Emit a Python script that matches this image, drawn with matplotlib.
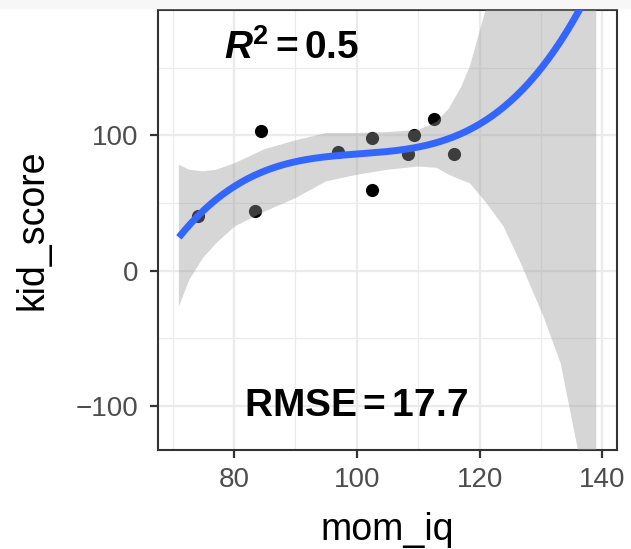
import numpy as np
import matplotlib
matplotlib.use("Agg")
import matplotlib.pyplot as plt
from matplotlib.patches import Rectangle

# data
mom_iq = [74.1, 83.4, 84.4, 97.0, 102.4, 102.4, 108.4, 109.3, 112.6, 115.9]
kid_score = [40, 44.4, 103, 87.4, 98, 59.3, 86, 100.5, 112, 86.4]
# confidence band edges
band_x = [71, 72.7, 74.9, 77.1, 80.1, 85, 90, 95, 100, 105, 110, 113, 115,
          117, 118.4, 121.1, 123.9, 126.7, 130.4, 133.2, 135.9, 139]
band_upper = [78.3, 74.6, 73.4, 74.6, 79.5, 89.9, 96.3, 101.8, 101.8, 102.5,
              104, 110, 120, 136, 151, 195, 250, 320, 400, 480, 560, 700]
band_lower = [-26.7, -6.9, 9.2, 20.3, 32.6, 43.7, 53.6, 66, 70.9, 74.6, 77,
              76, 70.9, 67, 64.7, 50, 32.6, 5.5, -34, -68.6, -130, -250]
x_limits = [71, 139]
y_view = [-118, 178]
x_ticks = [80, 100, 120, 140]
y_ticks = [-100, 0, 100]
r2_label = r"$\mathbfit{R}^{\mathbf{2}}\mathbf{=0.5}$"
rmse_label = r"$\mathbf{RMSE=17.7}$"

plt.rcParams["font.family"] = ["Liberation Sans", "DejaVu Sans"]
plt.rcParams["mathtext.fontset"] = "custom"
plt.rcParams["mathtext.rm"] = "Liberation Sans"
plt.rcParams["mathtext.bf"] = "Liberation Sans:bold"
plt.rcParams["mathtext.it"] = "Liberation Sans:italic"
plt.rcParams["mathtext.bfit"] = "Liberation Sans:bold:italic"

# cubic least-squares fit of the points
x = np.array(mom_iq, float)
y = np.array(kid_score, float)
c, s = x.mean(), x.std()
X = np.vander((x - c) / s, 4, increasing=True)
beta, *_ = np.linalg.lstsq(X, y, rcond=None)
xg = np.linspace(x_limits[0], x_limits[1], 200)
fit = np.vander((xg - c) / s, 4, increasing=True) @ beta

fig = plt.figure(figsize=(6.31, 5.49), dpi=100)
fig.patches.append(Rectangle((0, 1 - 8 / 549), 1, 8 / 549, transform=fig.transFigure,
                             color="#F7F7F7", zorder=0))
ax = fig.add_axes([0.2504, 0.1803, 0.978 - 0.2504, 0.9818 - 0.1803])
ax.set_facecolor("white")

ax.scatter(x, y, s=90, color="black", zorder=3, linewidths=0)
ax.fill_between(band_x, band_lower, band_upper, color="#999999", alpha=0.4,
                linewidth=0, zorder=4)
ax.plot(xg, fit, color="#3366FF", lw=5, zorder=5, solid_capstyle="butt")

ax.text(89.3, 165, r2_label, fontsize=28, ha="center", va="center", zorder=6)
ax.text(99.8, -100, rmse_label, fontsize=28, ha="center", va="center", zorder=6)

span = x_limits[1] - x_limits[0]
ax.set_xlim(x_limits[0] - 0.05 * span, x_limits[1] + 0.05 * span)
yspan = y_view[1] - y_view[0]
ax.set_ylim(y_view[0] - 0.05 * yspan, y_view[1] + 0.05 * yspan)
ax.set_xticks(x_ticks)
ax.set_yticks(y_ticks)
ax.set_xticks([70, 90, 110, 130], minor=True)
ax.set_yticks([-50, 50, 150], minor=True)
ax.grid(which="major", color="#EBEBEB", lw=1.6, zorder=0)
ax.grid(which="minor", color="#EBEBEB", lw=0.9, zorder=0)
ax.set_axisbelow(True)
ax.tick_params(which="major", length=6, width=1.6, color="#333333",
               labelsize=20, labelcolor="#4D4D4D", pad=6)
ax.tick_params(axis="y", which="major", pad=8)
ax.tick_params(which="minor", length=0)
for sp in ax.spines.values():
    sp.set_color("#333333")
    sp.set_linewidth(1.5)
ax.set_xlabel("mom_iq", fontsize=27, labelpad=14)
ax.set_ylabel("kid_score", fontsize=27, labelpad=18)
ax.yaxis.set_major_formatter(matplotlib.ticker.FuncFormatter(
    lambda v, p: ("\u2212" if v < 0 else "") + f"{abs(int(v))}"))

fig.savefig("out.png", dpi=100, facecolor="white")
